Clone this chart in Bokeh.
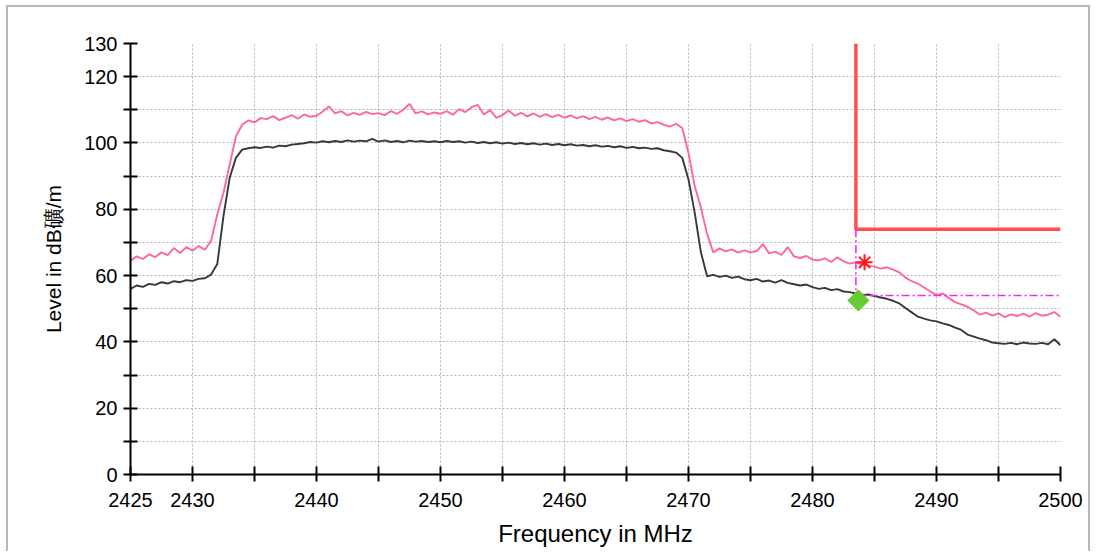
import math
from bokeh.plotting import figure
from bokeh.models import FixedTicker, Range1d
from bokeh.embed import file_html
from bokeh.resources import INLINE

# ---- data ----
freq_start = 2425.0
freq_step = 0.5
freq = [freq_start + freq_step * i for i in range(151)]

peak_level = [
    64.5, 65.8, 65.0, 66.4, 65.6, 67.0, 66.2, 68.3, 66.8, 68.6,
    67.5, 68.9, 67.8, 70.5, 78.5, 85.0, 93.5, 102.0, 105.5, 106.8,
    106.2, 107.5, 107.2, 108.1, 106.9, 107.6, 108.4, 107.3, 108.6, 107.9,
    108.2, 109.5, 111.0, 108.9, 109.6, 108.3, 109.1, 108.5, 109.4, 108.7,
    109.0, 108.4, 109.6, 108.8, 110.0, 111.8, 108.9, 109.5, 108.6, 109.2,
    108.8, 109.6, 108.5, 110.2, 109.3, 110.8, 111.5, 108.6, 109.9, 107.6,
    108.4, 109.8, 108.2, 109.1, 108.0, 108.9, 107.9, 108.7, 107.8, 108.5,
    107.6, 108.3, 107.4, 108.1, 107.2, 107.9, 107.0, 107.7, 106.8, 107.4,
    106.6, 107.2, 106.4, 106.9, 105.9, 106.3, 105.5, 104.9, 105.8, 104.5,
    97.0, 87.0, 80.5, 72.5, 67.0, 68.2, 67.3, 67.9, 66.9, 67.6,
    67.0, 67.4, 69.5, 66.7, 67.2, 66.2, 68.6, 65.8, 65.3, 65.9,
    64.8, 64.6, 65.2, 64.1, 65.5, 64.3, 63.6, 64.0, 63.4, 63.0,
    62.7, 62.1, 62.5, 61.8, 61.0, 59.4, 58.3, 57.6, 56.4, 55.2,
    54.1, 54.6, 53.2, 52.0, 51.3, 50.6, 49.5, 48.2, 48.8, 47.9,
    48.6, 47.5, 48.3, 47.8, 48.5, 47.6, 48.7, 47.9, 48.2, 49.0,
    47.6,
]

avg_level = [
    56.0, 57.0, 56.6, 57.5, 57.2, 58.0, 57.6, 58.3, 58.0, 58.6,
    58.4, 59.0, 59.2, 60.3, 63.5, 78.0, 89.5, 95.5, 98.0, 98.4,
    98.7, 98.5, 98.9, 98.6, 99.2, 99.0, 99.5, 99.7, 99.9, 100.3,
    100.1, 100.5, 100.2, 100.6, 100.3, 100.8, 100.4, 100.7, 100.5, 101.2,
    100.4, 100.8, 100.3, 100.6, 100.2, 100.7, 100.4, 100.6, 100.3, 100.5,
    100.2, 100.6, 100.3, 100.5, 100.1, 100.4, 100.0, 100.3, 99.9, 100.2,
    99.8, 100.1, 99.7, 100.0, 99.6, 99.9, 99.5, 99.8, 99.4, 99.7,
    99.3, 99.6, 99.2, 99.4, 99.0, 99.3, 98.9, 99.1, 98.7, 99.0,
    98.5, 98.8, 98.4, 98.6, 98.2, 98.4, 97.8, 97.5, 97.1, 95.5,
    89.0, 79.0, 67.0, 59.8, 60.2, 59.6, 60.0, 59.3, 59.7, 58.9,
    58.6, 59.0, 58.2, 58.5, 57.9, 58.6, 57.8, 57.4, 57.0, 57.3,
    56.5, 56.0, 56.3, 55.6, 55.9, 55.2, 55.0, 54.6, 54.1, 54.3,
    53.8, 53.4, 53.0, 52.4, 51.6, 50.2, 48.9, 47.6, 47.0, 46.5,
    46.2, 45.6, 45.1, 44.3, 43.6, 42.2, 41.6, 41.0, 40.5, 39.8,
    39.6, 39.4, 39.7, 39.3, 39.8, 39.5, 39.4, 39.7, 39.3, 40.8,
    39.0,
]

limit_x = [2483.5, 2483.5, 2500.0]
limit_y = [130.0, 74.0, 74.0]
margin_x = [2483.5, 2483.5, 2500.0]
margin_y = [74.0, 54.0, 54.0]
peak_marker_x = [2484.2]
peak_marker_y = [64.0]
avg_marker_x = [2483.7]
avg_marker_y = [52.5]

x_ticks = [2425 + 5 * k for k in range(16)]
x_labeled = [2425, 2430, 2440, 2450, 2460, 2470, 2480, 2490, 2500]
y_ticks = [10 * k for k in range(14)]
y_labeled = [0, 20, 40, 60, 80, 100, 120, 130]

y_title = "Level in dB" + b"\xb5V".decode("gbk") + "/m"
x_title = "Frequency in MHz"

FONT = "Liberation Sans"

p = figure(width=1084, height=546, output_backend="svg", toolbar_location=None,
           x_range=Range1d(2425, 2500), y_range=Range1d(0, 130),
           min_border_left=122, min_border_right=32, min_border_top=36,
           min_border_bottom=79)
p.styles = {"margin-left": "6px", "margin-top": "5px",
            "border-left": "2px solid #b8b8b8", "border-top": "2px solid #b8b8b8",
            "border-right": "2px solid #b8b8b8"}
p.outline_line_color = None
p.background_fill_color = "white"
p.border_fill_color = "white"

# grids
for g in (p.xgrid, p.ygrid):
    g.grid_line_color = "#b4b4b4"
    g.grid_line_dash = "2 2"
    g.grid_line_width = 1
p.xgrid.ticker = FixedTicker(ticks=x_ticks)
p.ygrid.ticker = FixedTicker(ticks=y_ticks)

# axes
p.xaxis.ticker = FixedTicker(ticks=x_ticks)
p.yaxis.ticker = FixedTicker(ticks=y_ticks)
p.xaxis.major_label_overrides = {t: ("" if t not in x_labeled else str(t)) for t in x_ticks}
p.yaxis.major_label_overrides = {t: ("" if t not in y_labeled else str(t)) for t in y_ticks}
for ax in (p.xaxis, p.yaxis):
    ax.axis_line_color = "black"
    ax.axis_line_width = 2
    ax.major_tick_line_color = "black"
    ax.major_tick_line_width = 2
    ax.minor_tick_line_color = None
    ax.major_label_text_font = FONT
    ax.major_label_text_font_size = "20px"
    ax.major_label_text_color = "black"
    ax.axis_label_text_font = FONT
    ax.axis_label_text_font_style = "normal"
    ax.axis_label_text_color = "black"
p.yaxis.major_tick_in = 7
p.yaxis.major_tick_out = 7
p.yaxis.major_label_standoff = 6
p.xaxis.major_tick_in = 8
p.xaxis.major_tick_out = 7
p.xaxis.major_label_standoff = 11

p.yaxis.axis_label = y_title
p.yaxis.axis_label_text_font_size = "21px"
p.yaxis.axis_label_standoff = 16

p.xaxis.axis_label = x_title
p.xaxis.axis_label_text_font_size = "24px"
p.xaxis.axis_label_standoff = 10

# data lines
p.line(freq, peak_level, line_color="#ff6699", line_width=1.9)
p.line(freq, avg_level, line_color="#383838", line_width=1.9)

# limit and margin
p.line(limit_x, limit_y, line_color="#ff4f4f", line_width=3.5)
p.line(margin_x, margin_y, line_color="#ff22ff", line_width=1.6, line_dash="8 3 2 3")

# markers
p.scatter(peak_marker_x, peak_marker_y, marker="asterisk", size=16,
          line_color="#ff1a1a", line_width=2)
p.scatter(avg_marker_x, avg_marker_y, marker="square", size=15, angle=math.pi / 4,
          fill_color="#66cc33", line_color="#66cc33")

open("out.html", "w").write(file_html(p, INLINE))
